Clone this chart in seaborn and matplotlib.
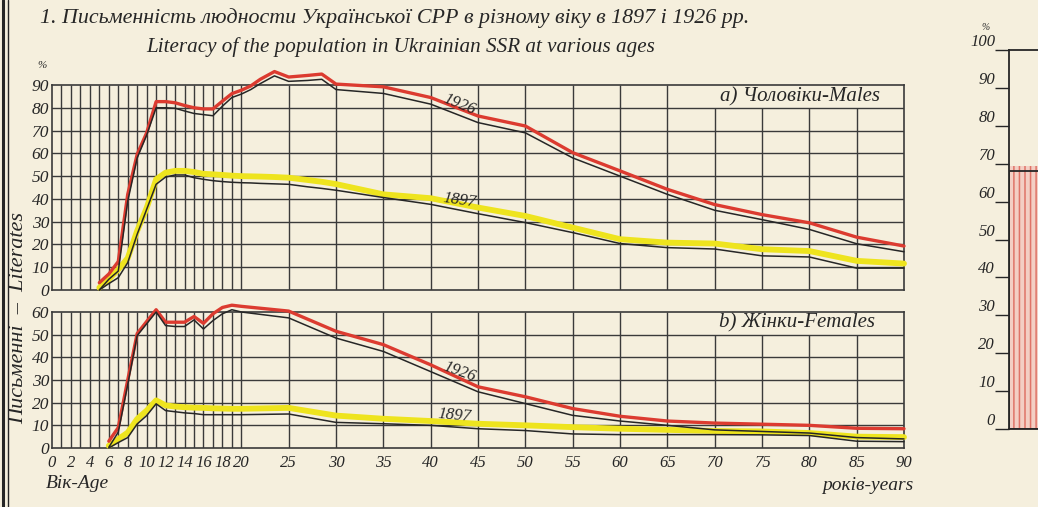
import matplotlib
matplotlib.use("Agg")
import matplotlib.pyplot as plt
import seaborn as sns
from matplotlib.lines import Line2D

# ---------------- data ----------------
male_ages = [5, 6, 7, 8, 9, 10, 11, 12, 13, 14, 15, 16, 17, 18, 19, 20, 21, 22,
             23.5, 25, 27, 28.5, 30, 35, 40, 45, 50, 55, 60, 65, 70, 75, 80, 85, 90]
male_1926 = [3.2, 7, 12.5, 42, 59.6, 69, 82.7, 82.7, 82.2, 81, 80, 79.5, 79.5, 82.9,
             86.2, 87.7, 89.6, 92.5, 95.9, 93.5, 94.2, 94.8, 90.4, 89.2, 84.5, 76.4,
             72, 60.3, 52.3, 44.2, 37.5, 33.1, 29.5, 23.2, 19.3]
male_1926_b = [0, 4.7, 8.3, 39, 58, 68, 80, 80, 79.8, 78.6, 77.5, 77, 76.5, 80.7,
               84.5, 86, 88, 90.6, 94, 91.6, 92, 92.5, 88, 86.3, 81.6, 73.5, 69, 58,
               50, 42, 35, 30.9, 26.6, 20.3, 16.8]
male_1897 = [1, 4.7, 9, 14, 26, 36, 48.6, 51.5, 52.3, 52.3, 51.8, 51, 50.8, 50.5,
             50.2, 50, 49.9, 49.8, 49.6, 49.3, 48.3, 47.5, 46.5, 42, 40.3, 36.2,
             32.5, 27.4, 22.3, 20.8, 20.4, 17.9, 17.1, 12.8, 11.6]
male_1897_b = [0, 2.8, 5.4, 12, 24.5, 35.4, 46.4, 49.6, 50.5, 50.5, 49.3, 48.6, 48,
               47.6, 47.3, 47.1, 47, 46.8, 46.6, 46.4, 45.3, 44.6, 43.8, 40.6, 37.6,
               33.5, 29.6, 25.2, 20.4, 18.6, 18, 15, 14.5, 9.6, 9.6]

female_ages = [6, 7, 8, 9, 10, 11, 12, 13, 14, 15, 16, 17, 18, 19, 20, 25, 30, 35,
               40, 45, 50, 55, 60, 65, 70, 75, 80, 85, 90]
female_1926 = [3, 9, 30, 50.5, 55.8, 61, 55.5, 55.5, 55.5, 58, 55, 59.2, 62, 63,
               62.5, 60.4, 51.5, 45.6, 36.7, 27, 22.6, 17.4, 14, 11.9, 11, 10.5, 10,
               8.7, 8.5]
female_1926_b = [0.3, 7, 28, 49.6, 54.8, 60, 54, 53.6, 53.6, 56.5, 52.5, 56.2, 59.2,
                 61, 60, 57.4, 48.5, 42.6, 33.7, 24.8, 19.6, 14.4, 11.9, 10, 8, 7.3,
                 6.6, 4.6, 4]
female_1897 = [1, 3.9, 6.8, 12.8, 16.5, 21, 18.8, 18.3, 18, 17.8, 17.7, 17.5, 17.4,
               17.3, 17.3, 17.7, 14.3, 12.9, 11.9, 10.7, 10, 9.2, 8.5, 8, 7.5, 7.3,
               6.6, 5, 4.8]
female_1897_b = [0, 2.4, 4.6, 10.6, 14.3, 19.5, 16.5, 16, 15.5, 15.2, 14.7, 14.7,
                 14.7, 14.7, 14.7, 15, 11.3, 10.7, 10, 8.5, 7.7, 6.2, 5.9, 5.9, 5.9,
                 5.8, 5.5, 3, 2.8]

x_tick_values = [0, 2, 4, 6, 8, 10, 12, 14, 16, 18, 20, 25, 30, 35, 40, 45, 50,
                 55, 60, 65, 70, 75, 80, 85, 90]
upper_y_ticks = [0, 10, 20, 30, 40, 50, 60, 70, 80, 90]
lower_y_ticks = [0, 10, 20, 30, 40, 50, 60]
right_y_ticks = [0, 10, 20, 30, 40, 50, 60, 70, 80, 90, 100]
right_bar_label = ["1926"]
right_bar_total = [69.5]
right_bar_line = [68]

title_uk = "1. Письменність людности Української СРР в різному віку в 1897 і 1926 рр."
title_en = "Literacy of the population in Ukrainian SSR at various ages"

# ---------------- style ----------------
BG = "#f5efdd"
RED = "#dc3b30"
YEL = "#eee41e"
INK = "#262626"
GRID = "#3a3a3a"

sns.set_theme(style="white")
plt.rcParams['font.family'] = ['Liberation Serif', 'DejaVu Serif']
plt.rcParams['font.style'] = 'italic'
plt.rcParams['text.color'] = INK
plt.rcParams['axes.labelcolor'] = INK
plt.rcParams['xtick.color'] = INK
plt.rcParams['ytick.color'] = INK
plt.rcParams['hatch.linewidth'] = 1.1

W, H = 1038, 507
fig = plt.figure(figsize=(W / 100, H / 100), dpi=100, facecolor=BG)


def rect(x0, x1, ytop, ybot):
    return [x0 / W, 1 - ybot / H, (x1 - x0) / W, (ybot - ytop) / H]


ax1 = fig.add_axes(rect(52, 904, 85, 290))
ax2 = fig.add_axes(rect(52, 904, 312, 448))


def frame(ax, ymax):
    ax.set_facecolor(BG)
    ax.set_xlim(0, 90)
    ax.set_ylim(0, ymax)
    for v in range(10, ymax, 10):
        ax.axhline(v, color=GRID, lw=1.0, zorder=1)
    for x in list(range(1, 20)) + list(range(20, 90, 5)):
        top = ymax - 10 if x >= 70 else ymax
        ax.vlines(x, 0, top, color=GRID, lw=1.0, zorder=1)
    for s in ax.spines.values():
        s.set_visible(True)
        s.set_color(GRID)
        s.set_linewidth(1.2)


frame(ax1, 90)
frame(ax2, 60)


def draw(ax, ages, col, colb, colr, colbr):
    sns.lineplot(x=ages, y=col, ax=ax, color=YEL, lw=4.2, estimator=None,
                 sort=False, clip_on=False, zorder=3)
    sns.lineplot(x=ages, y=colb, ax=ax, color=INK, lw=1.1, estimator=None,
                 sort=False, clip_on=False, zorder=4)
    sns.lineplot(x=ages, y=colr, ax=ax, color=RED, lw=2.4, estimator=None,
                 sort=False, clip_on=False, zorder=5)
    sns.lineplot(x=ages, y=colbr, ax=ax, color=INK, lw=1.1, estimator=None,
                 sort=False, clip_on=False, zorder=6)


draw(ax1, male_ages, male_1897, male_1897_b, male_1926, male_1926_b)
draw(ax2, female_ages, female_1897, female_1897_b, female_1926, female_1926_b)

ax1.set_yticks(upper_y_ticks)
ax1.set_yticklabels([str(v) for v in upper_y_ticks])
ax1.set_xticks([])
ax1.tick_params(axis='y', length=0, pad=2, labelsize=12.5)
ax2.set_yticks(lower_y_ticks)
ax2.set_yticklabels([str(v) for v in lower_y_ticks])
ax2.set_xticks(x_tick_values)
ax2.set_xticklabels([str(v) for v in x_tick_values])
ax2.tick_params(axis='y', length=0, pad=2, labelsize=12.5)
ax2.tick_params(axis='x', length=0, pad=5, labelsize=12)
for ax in (ax1, ax2):
    ax.set_xlabel("")
    ax.set_ylabel("")

# panel labels
ax1.text(79, 85, "a) Чоловіки-Males", ha='center', va='center', fontsize=15, zorder=7)
ax2.text(78.7, 55, "b) Жінки-Females", ha='center', va='center', fontsize=15, zorder=7)
# curve labels
ax1.text(43, 81.5, "1926", rotation=-22, ha='center', va='center', fontsize=12, zorder=7)
ax1.text(43, 39.5, "1897", rotation=-8, ha='center', va='center', fontsize=12, zorder=7)
ax2.text(43, 33.5, "1926", rotation=-20, ha='center', va='center', fontsize=12, zorder=7)
ax2.text(42.5, 14.3, "1897", rotation=-5, ha='center', va='center', fontsize=12, zorder=7)

# axis annotations
fig.text(42 / W, 1 - 65 / H, "%", ha='center', va='center', fontsize=8)
fig.text(46 / W, 1 - 483 / H, "Вік-Age", ha='left', va='center', fontsize=14)
fig.text(913 / W, 1 - 486 / H, "років-years", ha='right', va='center', fontsize=14)
fig.text(19 / W, 1 - 318 / H, "Письменні  –  Literates", rotation=90,
         ha='center', va='center', fontsize=16)

# titles
fig.text(395 / W, 1 - 18 / H, title_uk, ha='center', va='center', fontsize=15.8)
fig.text(401 / W, 1 - 47 / H, title_en, ha='center', va='center', fontsize=15.2)

# page border (double rule)
fig.add_artist(Line2D([2.5 / W, 2.5 / W], [0, 1], transform=fig.transFigure,
                      color=INK, lw=2.2))
fig.add_artist(Line2D([7.5 / W, 7.5 / W], [0, 1], transform=fig.transFigure,
                      color=INK, lw=1.0))

# ---------------- right (cropped) chart ----------------
ax3 = fig.add_axes(rect(1009, 1160, 50, 429))
ax3.set_facecolor(BG)
sns.barplot(x=right_bar_label, y=right_bar_total, ax=ax3, color="#f3cfc4",
            width=1.0, saturation=1)
for p in ax3.patches:
    p.set_hatch("|||")
    p.set_edgecolor("#df7468")
    p.set_linewidth(0)
sns.barplot(x=right_bar_label, y=right_bar_line, ax=ax3, fill=False, width=1.0,
            edgecolor=INK, linewidth=1.3)
ax3.set_xlim(-0.5, 0.5)
ax3.set_ylim(0, 100)
ax3.set_xticks([])
ax3.set_yticks(right_y_ticks)
ax3.set_yticklabels([str(v) for v in right_y_ticks])
ax3.tick_params(axis='y', direction='out', length=10, width=1.0, pad=0,
                labelsize=12, color=INK, left=True)
for lbl in ax3.get_yticklabels():
    lbl.set_va('bottom')
ax3.set_xlabel("")
ax3.set_ylabel("")
for name, s in ax3.spines.items():
    s.set_color(INK)
    s.set_linewidth(1.3)
    s.set_visible(name in ('left', 'top', 'bottom'))
fig.text(986 / W, 1 - 28 / H, "%", ha='center', va='center', fontsize=7)

fig.savefig("out.png", dpi=100, facecolor=BG)
